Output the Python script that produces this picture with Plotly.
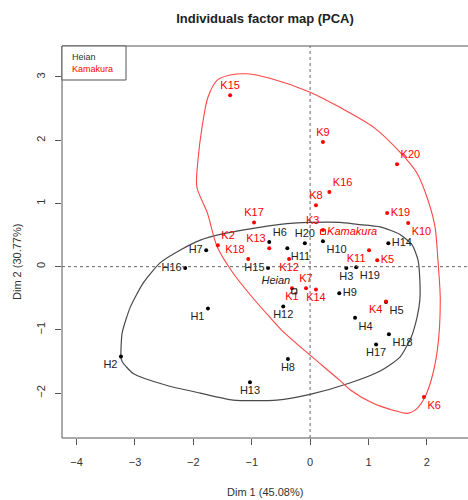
import plotly.graph_objects as go

# ---------------- data ----------------
heian_labels = ["H1", "H2", "H3", "H4", "H5", "H6", "H7", "H8", "H9", "H10",
                "H11", "H12", "H13", "H14", "H15", "H16", "H17", "H18", "H19", "H20"]
heian_dim1 = [-1.75, -3.24, 0.62, 0.77, 1.30, -0.70, -1.78, -0.38, 0.50, 0.22,
              -0.39, -0.46, -1.03, 1.34, -0.72, -2.14, 1.13, 1.35, 0.79, -0.09]
heian_dim2 = [-0.66, -1.42, -0.02, -0.81, -0.56, 0.39, 0.26, -1.46, -0.42, 0.40,
              0.29, -0.63, -1.83, 0.37, -0.02, -0.02, -1.23, -1.07, -0.01, 0.37]

kama_labels = ["K1", "K2", "K3", "K4", "K5", "K6", "K7", "K8", "K9", "K10",
               "K11", "K12", "K13", "K14", "K15", "K16", "K17", "K18", "K19", "K20"]
kama_dim1 = [-0.31, -1.58, 0.22, 1.30, 1.15, 1.95, -0.07, 0.10, 0.22, 1.68,
             1.01, -0.36, -0.70, 0.10, -1.37, 0.33, -0.96, -1.06, 1.32, 1.49]
kama_dim2 = [-0.34, 0.34, 0.58, -0.55, 0.10, -2.06, -0.34, 0.97, 1.97, 0.69,
             0.26, 0.12, 0.29, -0.36, 2.71, 1.18, 0.70, 0.12, 0.85, 1.62]

group_names = ["Heian", "Kamakura"]
centroid_dim1 = [-0.27, 0.22]
centroid_dim2 = [-0.39, 0.55]

# confidence-region outlines
heian_ell_x = [-3.24, -3.22, -3.08, -2.86, -2.57, -2.23, -1.88, -1.54, -1.08, -0.51, 0.00, 0.51,
               0.81, 1.20, 1.54, 1.75, 1.85, 1.88, 1.88, 1.83, 1.73, 1.54, 1.20, 0.68, 0.00,
               -0.57, -1.32, -1.88, -2.45, -3.03, -3.22, -3.24]
heian_ell_y = [-1.42, -1.05, -0.64, -0.26, 0.06, 0.26, 0.42, 0.51, 0.59, 0.67, 0.70, 0.70,
               0.67, 0.63, 0.51, 0.34, 0.10, -0.21, -0.53, -0.81, -1.12, -1.43, -1.65, -1.84, -2.02,
               -2.11, -2.11, -2.00, -1.88, -1.69, -1.50, -1.42]
kama_ell_x = [-1.94, -1.92, -1.85, -1.75, -1.59, -1.37, -1.08, -0.69, 0.00, 0.51, 1.08, 1.54,
              1.83, 2.02, 2.14, 2.19, 2.23, 2.18, 2.06, 1.94, 1.80, 1.66, 1.42, 1.08, 0.69,
              0.51, 0.00, -0.48, -0.69, -1.03, -1.32, -1.59, -1.76, -1.94]
kama_ell_y = [1.26, 1.69, 2.21, 2.68, 2.95, 3.03, 3.05, 2.98, 2.76, 2.52, 2.21, 1.81,
              1.48, 1.05, 0.63, 0.10, -0.53, -1.32, -1.84, -2.11, -2.27, -2.32, -2.27, -2.16, -1.95,
              -1.80, -1.40, -1.01, -0.80, -0.44, -0.10, 0.31, 0.85, 1.26]

x_ticks = [-4, -3, -2, -1, 0, 1, 2]
y_ticks = [-2, -1, 0, 1, 2, 3]

# ---------------- styling ----------------
heian_pos = ["bottom left", "bottom left", "bottom center", "bottom right", "bottom right",
             "top right", "middle left", "bottom center", "middle right", "bottom right",
             "bottom right", "bottom center", "bottom center", "middle right", "middle left",
             "middle left", "bottom center", "bottom right", "bottom right", "top center"]
kama_pos = ["bottom center", "top right", "top left", "bottom left", "middle right",
            "bottom right", "top center", "top center", "top center", "bottom right",
            "bottom left", "bottom center", "top left", "bottom center", "top center",
            "top right", "top center", "top left", "middle right", "top right"]

FONT = "Liberation Sans, Arial, sans-serif"
BLACK = "#222222"
RED = "#ff0000"
AXIS = "#555555"

fig = go.Figure()

fig.add_trace(go.Scatter(x=heian_ell_x, y=heian_ell_y, mode="lines",
                         line=dict(color="#4a4a4a", width=1.2, shape="spline", smoothing=0.6),
                         hoverinfo="skip", showlegend=False))
fig.add_trace(go.Scatter(x=kama_ell_x, y=kama_ell_y, mode="lines",
                         line=dict(color="#ff4545", width=1.1, shape="spline", smoothing=0.8),
                         hoverinfo="skip", showlegend=False))

fig.add_trace(go.Scatter(x=heian_dim1, y=heian_dim2, mode="markers+text", text=heian_labels,
                         textposition=heian_pos,
                         textfont=dict(family=FONT, size=11, color=BLACK),
                         marker=dict(color="black", size=4), showlegend=False))
fig.add_trace(go.Scatter(x=kama_dim1, y=kama_dim2, mode="markers+text", text=kama_labels,
                         textposition=kama_pos,
                         textfont=dict(family=FONT, size=11, color=RED),
                         marker=dict(color=RED, size=4), showlegend=False))

# group centroids
fig.add_trace(go.Scatter(x=[centroid_dim1[0]], y=[centroid_dim2[0]], mode="markers+text",
                         text=["<i>" + group_names[0] + "</i>"], textposition="top left",
                         textfont=dict(family=FONT, size=11, color=BLACK),
                         marker=dict(color="black", size=5, symbol="square-open"),
                         showlegend=False))
fig.add_trace(go.Scatter(x=[centroid_dim1[1]], y=[centroid_dim2[1]], mode="markers+text",
                         text=["<i>" + group_names[1] + "</i>"], textposition="middle right",
                         textfont=dict(family=FONT, size=11, color=RED),
                         marker=dict(color=RED, size=5, symbol="square-open"),
                         showlegend=False))

shapes = [
    # frame (left, top, bottom)
    dict(type="line", xref="paper", yref="paper", x0=0, x1=0, y0=0, y1=1,
         line=dict(color=AXIS, width=1)),
    dict(type="line", xref="paper", yref="paper", x0=0, x1=1, y0=1, y1=1,
         line=dict(color=AXIS, width=1)),
    dict(type="line", xref="paper", yref="paper", x0=0, x1=1, y0=0, y1=0,
         line=dict(color=AXIS, width=1)),
    # dotted axes through origin
    dict(type="line", xref="x", yref="paper", x0=0, x1=0, y0=0, y1=1,
         line=dict(color="#666666", width=1, dash="dot")),
    dict(type="line", xref="paper", yref="y", x0=0, x1=1, y0=0, y1=0,
         line=dict(color="#666666", width=1, dash="dot")),
    # legend box
    dict(type="rect", xref="paper", yref="paper", x0=0, x1=64 / 406, y0=1 - 34 / 392, y1=1,
         line=dict(color=AXIS, width=1), fillcolor="white", layer="above"),
]

annotations = [
    dict(text=group_names[0], xref="paper", yref="paper", x=8 / 406, y=1 - 11 / 392,
         xanchor="left", yanchor="middle", showarrow=False,
         font=dict(family=FONT, size=9, color="#333333")),
    dict(text=group_names[1], xref="paper", yref="paper", x=8 / 406, y=1 - 23 / 392,
         xanchor="left", yanchor="middle", showarrow=False,
         font=dict(family=FONT, size=9, color=RED)),
    dict(text="Dim 1 (45.08%)", xref="paper", yref="paper", x=0.5, y=-54 / 392,
         xanchor="center", yanchor="middle", showarrow=False,
         font=dict(family=FONT, size=11, color="#333333")),
    dict(text="Dim 2 (30.77%)", xref="paper", yref="paper", x=-45 / 406, y=(438 - 262) / 392,
         xanchor="center", yanchor="middle", showarrow=False, textangle=-90,
         font=dict(family=FONT, size=11, color="#333333")),
]

fig.update_layout(
    width=468, height=500,
    margin=dict(l=62, r=0, t=46, b=62),
    paper_bgcolor="white", plot_bgcolor="white",
    title=dict(text="<b>Individuals factor map (PCA)</b>", x=0.5, xref="paper",
               y=1 - 18 / 500, yref="container", xanchor="center", yanchor="middle",
               font=dict(family=FONT, size=13, color="#222222")),
    xaxis=dict(range=[-4.25, 2.705], tickvals=x_ticks, ticks="outside", ticklen=6,
               tickcolor=AXIS, showgrid=False, zeroline=False, showline=False,
               tickfont=dict(family=FONT, size=11, color="#333333"),
               ticklabelstandoff=8, fixedrange=True),
    yaxis=dict(range=[-2.71, 3.49], tickvals=y_ticks, ticks="outside", ticklen=6,
               tickcolor=AXIS, showgrid=False, zeroline=False, showline=False,
               tickangle=-90,
               tickfont=dict(family=FONT, size=11, color="#333333"),
               ticklabelstandoff=6, fixedrange=True),
    shapes=shapes, annotations=annotations,
    showlegend=False,
)

fig.write_html("out.html", config={"displayModeBar": False},
               post_script="document.body.style.margin='0';")
